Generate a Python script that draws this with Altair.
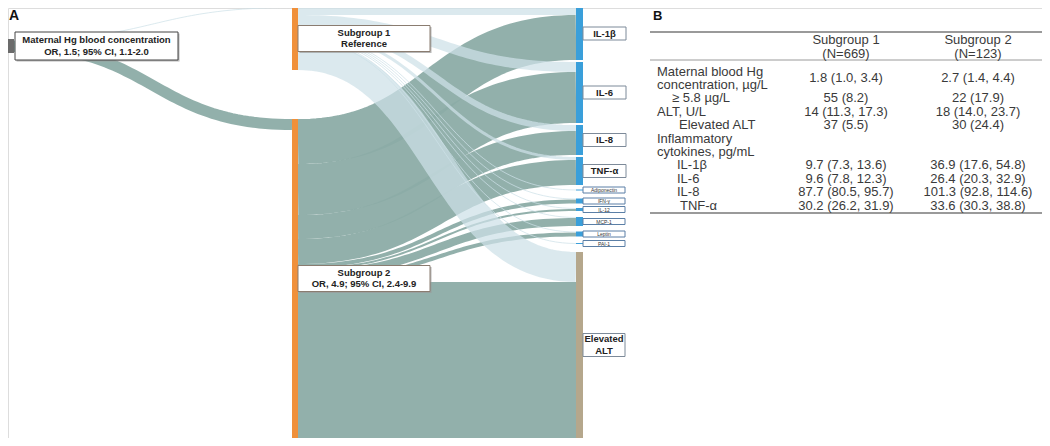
import altair as alt
import pandas as pd
import numpy as np

# ---------------- data ----------------
HG_TO_GROUP = [1, 11]                      # Maternal Hg -> Subgroup 1, Subgroup 2
TARGETS = ["IL-1β", "IL-6", "IL-8", "TNF-α", "Adiponectin", "IFN-γ", "IL-12",
           "MCP-1", "Leptin", "PAI-1", "Elevated ALT"]
FLOW_SUB1 = [8, 10, 6, 3, 1, 1, 1, 1, 1, 1, 30]
FLOW_SUB2 = [45, 51, 24, 25, 0, 4, 2, 8, 4, 0, 156]

HG_LABEL = ["Maternal Hg blood concentration", "OR, 1.5; 95% CI, 1.1-2.0"]
GROUP_LABELS = [["Subgroup 1", "Reference"], ["Subgroup 2", "OR, 4.9; 95% CI, 2.4-9.9"]]
TARGET_LABELS = [["IL-1β"], ["IL-6"], ["IL-8"], ["TNF-α"], ["Adiponectin"], ["IFN-γ"],
                 ["IL-12"], ["MCP-1"], ["Leptin"], ["PAI-1"], ["Elevated", "ALT"]]

TABLE_HEAD = ["Subgroup 1", "Subgroup 2"]
TABLE_N = ["(N=669)", "(N=123)"]
ROW_LABELS = ["Maternal blood Hg", "concentration, µg/L", "≥ 5.8 µg/L", "ALT, U/L",
              "Elevated ALT", "Inflammatory", "cytokines, pg/mL", "IL-1β", "IL-6",
              "IL-8", "TNF-α"]
SUB1_VALUES = ["1.8 (1.0, 3.4)", "55 (8.2)", "14 (11.3, 17.3)", "37 (5.5)",
               "9.7 (7.3, 13.6)", "9.6 (7.8, 12.3)", "87.7 (80.5, 95.7)", "30.2 (26.2, 31.9)"]
SUB2_VALUES = ["2.7 (1.4, 4.4)", "22 (17.9)", "18 (14.0, 23.7)", "30 (24.4)",
               "36.9 (17.6, 54.8)", "26.4 (20.3, 32.9)", "101.3 (92.8, 114.6)", "33.6 (30.3, 38.8)"]
VALUE_LINES = [0.5, 2, 3, 4, 7, 8, 9, 10]

# ---------------- layout / style ----------------
FONT = "Liberation Sans, Arial, sans-serif"
X_HG = (8, 14)
X_MID = (292, 298)
X_RIGHT = (576, 583)
TOP, BOTTOM = 7, 438
HG_TOP = 40
RIGHT_GAPS = [2, 2, 2, 4.5, 8, 4.5, 6, 5.5, 6.5, 8]
ROW_INDENT = [0, 0, 15, 0, 22, 0, 0, 20, 20, 20, 23]
TEAL, LIGHT = "#8caca6", "#cde0e8"
ORANGE, BLUE, TAN, GRAY = "#F0903A", "#3A9FDA", "#B5A78C", "#6b6b6b"

# node positions (sankey layout from the flow values)
sub_h = [sum(FLOW_SUB1), sum(FLOW_SUB2)]
left_gap = (BOTTOM - TOP) - sum(sub_h)
sub_top = [TOP, TOP + sub_h[0] + left_gap]
tgt_h = [a + b for a, b in zip(FLOW_SUB1, FLOW_SUB2)]
tgt_top = []
y = TOP
for i, h in enumerate(tgt_h):
    tgt_top.append(y)
    y += h + (RIGHT_GAPS[i] if i < len(RIGHT_GAPS) else 0)
hg_h = sum(HG_TO_GROUP)

nodes = [dict(x0=X_HG[0], x1=X_HG[1], y0=HG_TOP - 1, y1=HG_TOP + hg_h + 1, col=GRAY)]
for g in range(2):
    nodes.append(dict(x0=X_MID[0], x1=X_MID[1], y0=sub_top[g], y1=sub_top[g] + sub_h[g], col=ORANGE))
for i in range(len(TARGETS)):
    nodes.append(dict(x0=X_RIGHT[0], x1=X_RIGHT[1], y0=tgt_top[i],
                      y1=tgt_top[i] + max(tgt_h[i], 1), col=TAN if i == len(TARGETS) - 1 else BLUE))
nodes_df = pd.DataFrame(nodes)

# links
links = []
off = 0
for g, w in enumerate(HG_TO_GROUP):
    links.append((X_HG[1], HG_TOP + off + w / 2, X_MID[0], sub_top[g] + w / 2, w, g))
    off += w
for g, flows in enumerate([FLOW_SUB1, FLOW_SUB2]):
    off = 0
    for j, w in enumerate(flows):
        if w <= 0:
            continue
        toff = FLOW_SUB1[j] if g == 1 else 0
        links.append((X_MID[1], sub_top[g] + off + w / 2, X_RIGHT[0], tgt_top[j] + toff + w / 2, w, g))
        off += w

rows = []
ts = np.linspace(0, 1, 60)
for lid, (x0, y0, x1, y1, w, g) in enumerate(links):
    xm = (x0 + x1) / 2
    for k, t in enumerate(ts):
        bx = (1 - t) ** 3 * x0 + 3 * (1 - t) ** 2 * t * xm + 3 * (1 - t) * t ** 2 * xm + t ** 3 * x1
        by = y0 * (1 - t) ** 2 * (1 + 2 * t) + y1 * t ** 2 * (3 - 2 * t)
        rows.append(dict(lid=lid, k=k, x=bx, y=by, w=w, g=g, col=LIGHT if g == 0 else TEAL))
links_df = pd.DataFrame(rows)

# label boxes
boxes, texts = [], []
def add_box(x0, x1, yc, h, lines, size, bold, stroke, shadow):
    boxes.append(dict(x0=x0, x1=x1, y0=yc - h / 2, y1=yc + h / 2, stroke=stroke, shadow=shadow))
    n = len(lines)
    lh = size * 1.2
    for i, s in enumerate(lines):
        texts.append(dict(x=(x0 + x1) / 2, y=yc + (i - (n - 1) / 2) * lh, t=s, fs=size, bold=bold))

add_box(15, 178, HG_TOP + hg_h / 2, 28, HG_LABEL, 9.5, True, "#444444", True)
for g in range(2):
    add_box(298, 430, sub_top[g] + sub_h[g] / 2, 26, GROUP_LABELS[g], 9.5, True, "#8a7c70", True)
for i, lab in enumerate(TARGET_LABELS):
    yc = tgt_top[i] + max(tgt_h[i], 1) / 2
    if len(lab) == 2:
        add_box(583, 625, yc, 23, lab, 9.5, True, "#7d8a99", False)
    elif tgt_h[i] >= 20:
        add_box(583, 626, yc, 13, lab, 9.5, True, "#7d8a99", False)
    else:
        add_box(583, 625, yc, 6, lab, 5, False, "#5b7fa6", False)
boxes_df = pd.DataFrame(boxes)
texts_df = pd.DataFrame(texts)

# table
LINE0, PITCH = 71.7, 13.38
COLX = [846, 978]
tab = [dict(x=657 + ROW_INDENT[i], y=LINE0 + i * PITCH, t=s, a="left") for i, s in enumerate(ROW_LABELS)]
for c, vals in enumerate([SUB1_VALUES, SUB2_VALUES]):
    for v, ln in zip(vals, VALUE_LINES):
        tab.append(dict(x=COLX[c], y=LINE0 + ln * PITCH, t=v, a="center"))
    tab.append(dict(x=COLX[c], y=40, t=TABLE_HEAD[c], a="center"))
    tab.append(dict(x=COLX[c], y=53.5, t=TABLE_N[c], a="center"))
tab_df = pd.DataFrame(tab)
rules_df = pd.DataFrame([dict(x0=650, x1=1046, y=32, sw=2), dict(x0=650, x1=1046, y=60, sw=1),
                         dict(x0=650, x1=1046, y=213, sw=2)])
panel_df = pd.DataFrame([dict(x=9, y=16, t="A", fs=14), dict(x=653, y=16, t="B", fs=13)])

# ---------------- chart ----------------
xs = alt.Scale(domain=[8, 1042], nice=False, zero=False)
ys = alt.Scale(domain=[8, 438], nice=False, zero=False, reverse=True)
def X(f): return alt.X(f, type="quantitative", scale=xs, axis=None)
def Y(f): return alt.Y(f, type="quantitative", scale=ys, axis=None)
def X2(f): return alt.X2(f)
def Y2(f): return alt.Y2(f)

def link_layer(g, op):
    return alt.Chart(links_df[links_df.g == g]).mark_line(strokeCap="butt", opacity=op).encode(
        x=X("x"), y=Y("y"), detail="lid:N", order="k:Q",
        strokeWidth=alt.StrokeWidth("w:Q", scale=None),
        color=alt.Color("col:N", scale=None))

teal_links = link_layer(1, 0.95)
light_links = link_layer(0, 0.72)

node_layer = alt.Chart(nodes_df).mark_rect().encode(
    x=X("x0"), x2=X2("x1"), y=Y("y0"), y2=Y2("y1"), color=alt.Color("col:N", scale=None))

sh = boxes_df[boxes_df.shadow].copy()
sh["x0"] += 1.5; sh["x1"] += 1.5; sh["y0"] += 1.5; sh["y1"] += 1.5
shadow_layer = alt.Chart(sh).mark_rect(color="#9a9a9a", opacity=0.7).encode(
    x=X("x0"), x2=X2("x1"), y=Y("y0"), y2=Y2("y1"))
box_layer = alt.Chart(boxes_df).mark_rect(fill="white", strokeWidth=1).encode(
    x=X("x0"), x2=X2("x1"), y=Y("y0"), y2=Y2("y1"), stroke=alt.Stroke("stroke:N", scale=None))

bold_text = alt.Chart(texts_df[texts_df.bold]).mark_text(
    font=FONT, fontWeight="bold", color="#222222", baseline="middle", align="center").encode(
    x=X("x"), y=Y("y"), text="t:N", size=alt.Size("fs:Q", scale=None))
small_text = alt.Chart(texts_df[~texts_df.bold]).mark_text(
    font=FONT, color="#333333", baseline="middle", align="center").encode(
    x=X("x"), y=Y("y"), text="t:N", size=alt.Size("fs:Q", scale=None))

tab_left = alt.Chart(tab_df[tab_df.a == "left"]).mark_text(
    font=FONT, fontSize=13, color="#3a3a3a", baseline="middle", align="left").encode(
    x=X("x"), y=Y("y"), text="t:N")
tab_center = alt.Chart(tab_df[tab_df.a == "center"]).mark_text(
    font=FONT, fontSize=13, color="#3a3a3a", baseline="middle", align="center").encode(
    x=X("x"), y=Y("y"), text="t:N")
rule_layer = alt.Chart(rules_df).mark_rule(color="#9a9a9a").encode(
    x=X("x0"), x2=X2("x1"), y=Y("y"), strokeWidth=alt.StrokeWidth("sw:Q", scale=None))
panel_layer = alt.Chart(panel_df).mark_text(
    font=FONT, fontWeight="bold", color="#111111", baseline="middle", align="left").encode(
    x=X("x"), y=Y("y"), text="t:N", size=alt.Size("fs:Q", scale=None))

chart = alt.layer(
    teal_links, light_links, node_layer, shadow_layer, box_layer, bold_text, small_text,
    rule_layer, tab_left, tab_center, panel_layer
).properties(width=1034, height=430, padding=0, autosize=alt.AutoSizeParams(type="none")
).configure_view(stroke=None).configure(background="white")

chart.save("out.html", embed_options={"renderer": "svg", "actions": False})
